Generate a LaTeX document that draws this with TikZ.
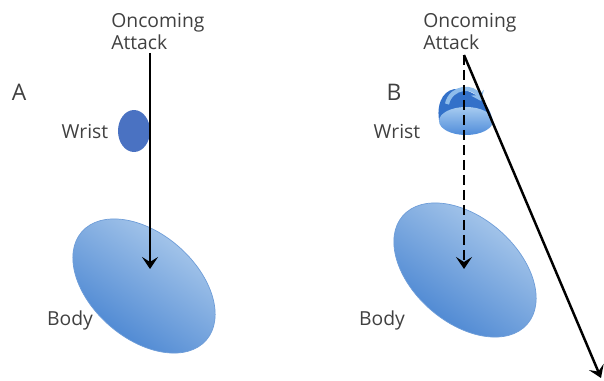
\documentclass[tikz,border=0pt]{standalone}
\usepackage{fontspec}
\setmainfont{Open Sans}
\usepackage{tikz}
\usetikzlibrary{arrows.meta,shapes.geometric}
\definecolor{wristblue}{HTML}{4A72C2}
\definecolor{bodylight}{HTML}{B4D0EE}
\definecolor{bodydark}{HTML}{3F7ECF}
\definecolor{bodyedge}{HTML}{6E9DD8}
\definecolor{domeblue}{HTML}{3371C9}
\definecolor{facelight}{HTML}{A6CBF0}
\definecolor{facedark}{HTML}{4F8CDA}
\definecolor{curlblue}{HTML}{8FBDEB}
\definecolor{labgray}{HTML}{404040}

\begin{document}
\begin{tikzpicture}[
  x=0.02cm, y=-0.02cm,
  font=\fontsize{11}{12.5}\selectfont,
  lab/.style={text=labgray, inner sep=0pt},
  panel/.style={lab, font=\fontsize{13}{15}\selectfont},
  wrist/.style={ellipse, fill=wristblue, minimum width=0.64cm, minimum height=0.84cm, inner sep=0pt},
  body/.style={ellipse, draw=bodyedge, thin, shading=axis, top color=bodylight, bottom color=bodydark,
               shading angle=-35, minimum width=3.3cm, minimum height=2.1cm, inner sep=0pt},
  hit/.style={-{Stealth[length=2.4mm,width=3.2mm,inset=1mm]}, line width=1.4pt},
  miss/.style={hit, dash pattern=on 0.2cm off 0.1cm},
]
\useasboundingbox (0,0) rectangle (604,381);
% panel A
\node[panel] (labA) at (19,92) {A};
\node[lab, anchor=north west, align=left] (attA) at (111,13) {Oncoming\\Attack};
\node[body, rotate=-41] (bodyA) at (144,286) {};
\node[lab] (bodylabA) at (70,320) {Body};
\node[wrist] (wristA) at (134,131) {};
\node[lab] (wristlabA) at (85,132) {Wrist};
\coordinate (startA) at (150,53);
\coordinate (endA) at (150,269);
\draw[hit] (startA) -- (endA);
% panel B
\node[panel] (labB) at (394,92) {B};
\node[lab, anchor=north west, align=left] (attB) at (423,13) {Oncoming\\Attack};
\node[body, rotate=-41] (bodyB) at (465,270) {};
\node[lab] (bodylabB) at (382,320) {Body};
\node[lab] (wristlabB) at (397,132) {Wrist};
% turned wrist
\fill[domeblue] (439,120) .. controls (436,100) and (446,88) .. (458,89)
  .. controls (474,90) and (488,102) .. (492,118) -- (466,122) -- cycle;
\shade[top color=facelight, bottom color=facedark] (466,121) ellipse [x radius=27, y radius=-14];
\draw[curlblue, line width=2.4pt, -{Stealth[length=1.8mm,width=2.8mm]}]
  (447,104) .. controls (451,86) and (474,85) .. (481,101);
\coordinate (startB) at (464,55);
\coordinate (endB) at (464,269);
\coordinate (awayB) at (601,378);
\draw[miss] (startB) -- (endB);
\draw[hit] (startB) -- (awayB);
\end{tikzpicture}
\end{document}
